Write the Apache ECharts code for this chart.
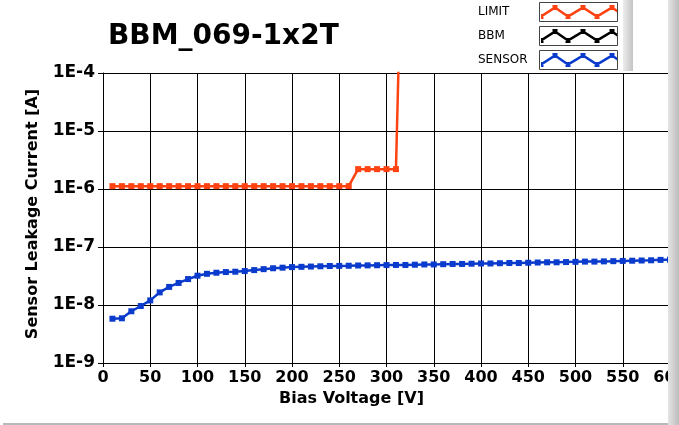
<!DOCTYPE html>
<html><head><meta charset="utf-8">
<script src="https://cdn.jsdelivr.net/npm/echarts@6/dist/echarts.min.js"></script>
<style>html,body{margin:0;padding:0;background:#fff}#c{width:679px;height:425px}</style>
</head><body><div id="c"></div>
<script>
const chartTitle = 'BBM_069-1x2T';
const xAxisName = 'Bias Voltage [V]';
const yAxisName = 'Sensor Leakage Current [A]';
const seriesNames = ['LIMIT', 'BBM', 'SENSOR'];
const seriesColors = ['#ff4212', '#000000', '#0a3bcc'];

const xMin = 0, xMax = 600, xInterval = 50;
const yMin = 1e-9, yMax = 1e-4;

const limitVoltage = [10,20,30,40,50,60,70,80,90,100,110,120,130,140,150,160,170,180,190,200,210,220,230,240,250,260,270,280,290,300,310,313];
const limitCurrent = [1.12e-6,1.12e-6,1.12e-6,1.12e-6,1.12e-6,1.12e-6,1.12e-6,1.12e-6,1.12e-6,1.12e-6,1.12e-6,1.12e-6,1.12e-6,1.12e-6,1.12e-6,1.12e-6,1.12e-6,1.12e-6,1.12e-6,1.12e-6,1.12e-6,1.12e-6,1.12e-6,1.12e-6,1.12e-6,1.12e-6,2.2e-6,2.2e-6,2.2e-6,2.2e-6,2.2e-6,2e-4];

const bbmVoltage = [];
const bbmCurrent = [];

const sensorVoltage = [10,20,30,40,50,60,70,80,90,100,110,120,130,140,150,160,170,180,190,200,210,220,230,240,250,260,270,280,290,300,310,320,330,340,350,360,370,380,390,400,410,420,430,440,450,460,470,480,490,500,510,520,530,540,550,560,570,580,590,600];
const sensorCurrent = [5.8e-9,5.9e-9,7.8e-9,9.6e-9,1.2e-8,1.65e-8,2.05e-8,2.4e-8,2.8e-8,3.2e-8,3.45e-8,3.6e-8,3.7e-8,3.75e-8,3.85e-8,4.0e-8,4.15e-8,4.3e-8,4.4e-8,4.5e-8,4.55e-8,4.6e-8,4.65e-8,4.7e-8,4.72e-8,4.75e-8,4.8e-8,4.82e-8,4.85e-8,4.88e-8,4.9e-8,4.9e-8,4.95e-8,5.0e-8,5.0e-8,5.05e-8,5.1e-8,5.1e-8,5.15e-8,5.2e-8,5.2e-8,5.25e-8,5.3e-8,5.3e-8,5.35e-8,5.4e-8,5.45e-8,5.45e-8,5.5e-8,5.55e-8,5.6e-8,5.6e-8,5.65e-8,5.7e-8,5.75e-8,5.8e-8,5.85e-8,5.9e-8,6.0e-8,6.05e-8];

function pairs(xs, ys) { return xs.map((x, i) => [x, ys[i]]); }

// zigzag legend icon (decoration)
function zigIcon() {
  const pts = [[0,11.5],[14,2.5],[27,11.5],[42,2.5],[56,11.5],[71,2.5],[76,6]];
  const h = 1.5;
  let p = '';
  for (let i = 0; i < pts.length - 1; i++) {
    const [x1,y1] = pts[i], [x2,y2] = pts[i+1];
    p += `M${x1} ${y1-h}L${x2} ${y2-h}L${x2} ${y2+h}L${x1} ${y1+h}Z`;
  }
  for (let i = 0; i < pts.length - 1; i++) {
    const [x,y] = pts[i];
    const l = Math.max(0, x - 2.5);
    p += `M${l} ${y-2.5}L${x+2.5} ${y-2.5}L${x+2.5} ${y+2.5}L${l} ${y+2.5}Z`;
  }
  return 'path://' + p;
}

const FONT = 'DejaVu Sans';
const chart = echarts.init(document.getElementById('c'), null, {renderer: 'canvas'});
const seriesData = [pairs(limitVoltage, limitCurrent), pairs(bbmVoltage, bbmCurrent), pairs(sensorVoltage, sensorCurrent)];

chart.setOption({
  animation: false,
  backgroundColor: '#ffffff',
  title: {
    text: chartTitle, left: 103, top: 18,
    textStyle: {fontFamily: FONT, fontWeight: 'bold', fontSize: 28, color: '#000'}
  },
  legend: {
    orient: 'vertical', left: 478, top: 5, padding: 0,
    align: 'right', itemWidth: 76, itemHeight: 14, itemGap: 10,
    icon: zigIcon(), selectedMode: false, z: 5,
    data: seriesNames,
    formatter: n => '{a|' + n + '}',
    textStyle: {fontFamily: FONT, fontSize: 12, color: '#000',
      rich: {a: {width: 58, align: 'left', fontFamily: FONT, fontSize: 12, color: '#000'}}}
  },
  grid: {left: 103, right: 9, top: 73, bottom: 62, containLabel: false, outerBoundsMode: 'none'},
  xAxis: {
    type: 'value', min: xMin, max: xMax, interval: xInterval,
    name: xAxisName, nameLocation: 'middle', nameGap: 27,
    nameTextStyle: {fontFamily: FONT, fontWeight: 'bold', fontSize: 16, color: '#000', padding: [0, 70, 0, 0]},
    axisLine: {show: true, lineStyle: {color: '#000', width: 1}},
    axisTick: {show: true, inside: false, length: 4, lineStyle: {color: '#000'}},
    axisLabel: {fontFamily: FONT, fontWeight: 'bold', fontSize: 16, color: '#000', margin: 7, showMaxLabel: true, showMinLabel: true},
    splitLine: {show: true, lineStyle: {color: '#000', width: 1}}
  },
  yAxis: {
    type: 'log', logBase: 10, min: yMin, max: yMax,
    name: yAxisName, nameLocation: 'middle', nameGap: 62,
    nameTextStyle: {fontFamily: FONT, fontWeight: 'bold', fontSize: 16, color: '#000', padding: [0, 0, 0, 8]},
    axisLine: {show: true, lineStyle: {color: '#000', width: 1}},
    axisTick: {show: true, inside: false, length: 5, lineStyle: {color: '#000'}},
    minorTick: {show: false},
    axisLabel: {fontFamily: FONT, fontWeight: 'bold', fontSize: 17, color: '#000', margin: 8,
      formatter: v => '1E' + Math.round(Math.log10(v))},
    splitLine: {show: true, lineStyle: {color: '#000', width: 1}}
  },
  series: seriesNames.map((n, i) => ({
    name: n, type: 'line', data: seriesData[i],
    color: seriesColors[i], symbol: 'rect', symbolSize: 6, showSymbol: true,
    lineStyle: {width: 2.5, color: seriesColors[i]},
    itemStyle: {color: seriesColors[i]},
    clip: true, z: 3
  })),
  graphic: [
    {type: 'rect', z: 0, shape: {x: 539.5, y: 2.5, width: 78, height: 19}, style: {fill: '#fff', stroke: '#444', lineWidth: 1}},
    {type: 'rect', z: 0, shape: {x: 539.5, y: 26.5, width: 78, height: 19}, style: {fill: '#fff', stroke: '#444', lineWidth: 1}},
    {type: 'rect', z: 0, shape: {x: 539.5, y: 50.5, width: 78, height: 19}, style: {fill: '#fff', stroke: '#444', lineWidth: 1}},
    {type: 'rect', z: 100, shape: {x: 623, y: 0, width: 10, height: 71},
      style: {fill: new echarts.graphic.LinearGradient(0, 0, 1, 0, [{offset: 0, color: '#ececec'}, {offset: 1, color: '#c4c4c4'}])}},
    {type: 'rect', z: 100, shape: {x: 668, y: 0, width: 11, height: 425},
      style: {fill: new echarts.graphic.LinearGradient(0, 0, 1, 0, [{offset: 0, color: '#e4e4e4'}, {offset: 1, color: '#bcbcbc'}])}},
    {type: 'rect', z: 99, shape: {x: 3, y: 423, width: 676, height: 2}, style: {fill: '#b8b8b8'}}
  ]
});
</script>
</body></html>
